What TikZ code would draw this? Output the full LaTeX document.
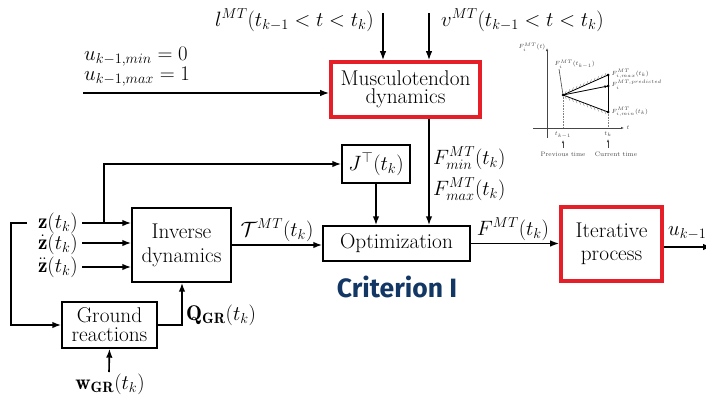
\documentclass[tikz,border=0pt]{standalone}
\usepackage{fontspec}
\newfontfamily\critfont{Fira Sans}
\usetikzlibrary{arrows.meta,calc}
\definecolor{boxred}{RGB}{230,30,40}
\definecolor{critblue}{RGB}{18,55,100}
\definecolor{insetgray}{RGB}{70,70,70}
\begin{document}
\begin{tikzpicture}[x=1pt,y=-1pt,
  txt/.style={font=\fontsize{21.3}{23}\selectfont, inner sep=0pt},
  blackbox/.style={txt, draw=black, line width=1.4pt, align=center},
  redbox/.style={txt, draw=boxred, line width=3.6pt, align=center},
  arr/.style={line width=1.6pt, -{Latex[length=9pt,width=6.5pt]}},
  ln/.style={line width=1.6pt},
  itx/.style={font=\fontsize{6.5}{7.5}\selectfont, text=insetgray, inner sep=0.5pt},
  iln/.style={line width=0.6pt, draw=insetgray},
  iarr/.style={iln, -{Latex[length=3pt,width=2.4pt]}},
  hatch/.style={line width=0.35pt, draw=gray}]
\useasboundingbox (0,0) rectangle (706,394);

% ---- boxes
\node[redbox, minimum width=149pt, minimum height=55pt] (mt) at (405.5,89.5) {Musculotendon\\[-5.5pt]dynamics};
\node[blackbox, minimum width=68pt, minimum height=38pt] (jt) at (376,164) {$J^{\top}(t_k)$};
\node[blackbox, minimum width=147pt, minimum height=35pt] (opt) at (396.5,243.5) {Optimization};
\node[redbox, minimum width=101pt, minimum height=74pt] (iter) at (611.5,244) {Iterative\\[0pt]process};
\node[blackbox, minimum width=99pt, minimum height=74pt] (inv) at (181.5,245) {Inverse\\[1pt]dynamics};
\node[blackbox, minimum width=95pt, minimum height=46pt] (gr) at (109.5,325) {Ground\\[-4pt]reactions};

% ---- free ends
\coordinate (lt) at (383,13);
\coordinate (vt) at (429,13);
\coordinate (ua) at (83,93);
\coordinate (z1) at (82,223);
\coordinate (z2) at (82,243);
\coordinate (z3) at (82,267);
\coordinate (br) at (104,223);
\coordinate (fb) at (27,223);
\coordinate (fbc) at (11,223);
\coordinate (qx) at (182,323);
\coordinate (wt) at (109,372);
\coordinate (outend) at (712,247);

% ---- connectors
\draw[arr] (lt) -- (lt |- mt.north);
\draw[arr] (vt) -- (vt |- mt.north);
\draw[arr] (ua) -- (ua -| mt.west);
\draw[arr] (vt |- mt.south) -- (vt |- opt.north);
\draw[arr] (jt.south) -- (jt.south |- opt.north);
\draw[arr] (z1) -- (z1 -| inv.west);
\draw[arr] (z2) -- (z2 -| inv.west);
\draw[arr] (z3) -- (z3 -| inv.west);
\draw[arr] (br) |- (jt.west);
\draw[arr] (fb) -- (fbc) |- (gr.west);
\draw[arr] (gr.east) -| (qx |- inv.south);
\draw[arr] (wt) -- (gr.south);
\draw[arr] (inv.east) -- (inv.east -| opt.west);
\draw[arr] (opt.east) -- (opt.east -| iter.west);
\draw[arr] (iter.east |- outend) -- (outend);

% ---- labels
\node[txt, anchor=east] (llab) at (374,20) {$l^{MT}(t_{k-1}<t<t_k)$};
\node[txt, anchor=west] (vlab) at (441,20) {$v^{MT}(t_{k-1}<t<t_k)$};
\node[txt, anchor=west] (umin) at (84,57) {$u_{k-1,min}=0$};
\node[txt, anchor=west] (umax) at (84,77) {$u_{k-1,max}=1$};
\node[txt, anchor=east] (zl1) at (78,223) {$\mathbf{z}(t_k)$};
\node[txt, anchor=east] (zl2) at (78,244) {$\dot{\mathbf{z}}(t_k)$};
\node[txt, anchor=east] (zl3) at (78,267) {$\ddot{\mathbf{z}}(t_k)$};
\node[txt] (tlab) at (277,230) {$\mathcal{T}^{MT}(t_k)$};
\node[txt, anchor=west] (qlab) at (186,315) {$\mathbf{Q_{GR}}(t_k)$};
\node[txt] (wlab) at (110,384) {$\mathbf{w_{GR}}(t_k)$};
\node[txt, anchor=west] (fmin) at (433,158) {$F^{MT}_{min}(t_k)$};
\node[txt, anchor=west] (fmax) at (433,189) {$F^{MT}_{max}(t_k)$};
\node[txt] (flab) at (513,229) {$F^{MT}(t_k)$};
\node[txt, anchor=west] (uout) at (668,233) {$u_{k-1}$};
\node[inner sep=0pt, text=critblue, font=\critfont\bfseries\fontsize{26.5}{29}\selectfont] (crit) at (397,287) {Criterion I};

% ---- inset plot
\coordinate (p0) at (563,95);
\coordinate (pmax) at (608,75);
\coordinate (ppred) at (608,86);
\coordinate (pmin) at (608,112);
\draw[iarr] (547,138) -- (547,48);
\draw[iarr] (533,128) -- (624,128);
\draw[iln, densely dotted, draw=gray] (p0) -- (563,128);
\draw[iln, densely dotted, draw=gray] (pmin) -- (608,128);
\foreach \s in {0.04,0.12,...,0.97} {
  \draw[hatch] ($(p0)!\s!(pmax)$) -- ++(1.5,-3.5);
  \draw[hatch] ($(p0)!\s!(pmin)$) -- ++(1.5,3.5);
}
\draw[line width=0.8pt] (p0) -- (pmax);
\draw[line width=0.8pt] (p0) -- (pmin);
\draw[line width=0.8pt, -{Latex[length=3.5pt,width=2.8pt]}] (p0) -- (ppred);
\draw[line width=0.8pt] (pmax) -- (pmin);
\draw[iln] (559,69) -- (p0);
\fill (p0) circle (1.5pt);
\fill (pmax) circle (1.5pt);
\fill (ppred) circle (1.5pt);
\fill (pmin) circle (1.5pt);
\node[itx, anchor=east] (ily) at (546,47) {$F_i^{MT}(t)$};
\node[itx, anchor=west] (ilp0) at (554,64) {$F_i^{MT}(t_{k-1})$};
\node[itx, anchor=west] (ilmax) at (611,74) {$F_{i,max}^{MT}(t_k)$};
\node[itx, anchor=west] (ilpred) at (611,85) {$F_i^{MT,predicted}$};
\node[itx, anchor=west] (ilmin) at (611,112) {$F_{i,min}^{MT}(t_k)$};
\node[itx, anchor=west] (ilt) at (626,128) {$t$};
\node[itx] (iltk1) at (563,135) {$t_{k-1}$};
\node[itx] (iltk) at (608,134) {$t_k$};
\coordinate (a1) at (563,148);
\coordinate (a2) at (608,148);
\draw[iarr] (a1) -- (563,140);
\draw[iarr] (a2) -- (608,139);
\node[itx] (prev) at (563,154) {Previous time};
\node[itx] (curr) at (616,154) {Current time};
\end{tikzpicture}
\end{document}
